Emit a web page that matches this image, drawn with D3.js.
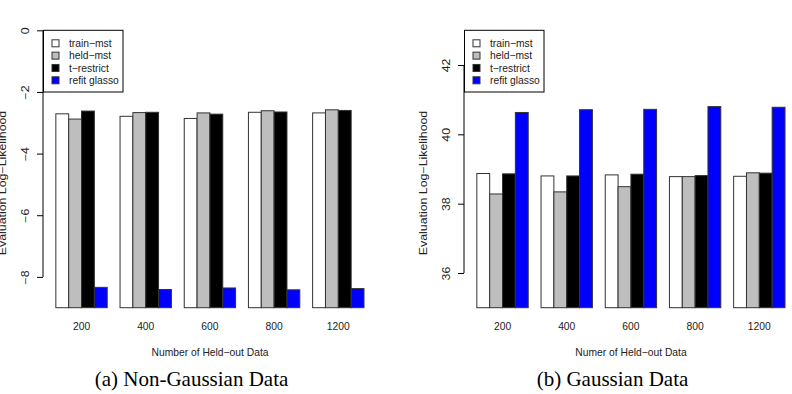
<!DOCTYPE html>
<html>
<head>
<meta charset="utf-8">
<script src="https://cdn.jsdelivr.net/npm/d3@7"></script>
<style>
  body { margin: 0; background: #fff; }
  svg { display: block; }
</style>
</head>
<body>
<script>
// 데이터
const groups = ["200", "400", "600", "800", "1200"];
const seriesNames = ["train\u2212mst", "held\u2212mst", "t\u2212restrict", "refit glasso"];
const seriesColors = ["#ffffff", "#bebebe", "#000000", "#0000ff"];

// (a) Non-Gaussian
const ngTrainMst  = [-2.71, -2.79, -2.86, -2.66, -2.68];
const ngHeldMst   = [-2.88, -2.67, -2.68, -2.61, -2.58];
const ngTRestrict = [-2.62, -2.66, -2.72, -2.65, -2.60];
const ngRefit     = [-8.34, -8.41, -8.36, -8.42, -8.38];
const ngTicks = [0, -2, -4, -6, -8];

// (b) Gaussian
const gTrainMst  = [38.87, 38.80, 38.83, 38.78, 38.79];
const gHeldMst   = [38.28, 38.34, 38.49, 38.78, 38.89];
const gTRestrict = [38.86, 38.80, 38.85, 38.81, 38.88];
const gRefit     = [40.63, 40.71, 40.72, 40.80, 40.78];
const gTicks = [42, 40, 38, 36];

const width = 792, height = 394;
const font = "'Liberation Sans', Arial, sans-serif";
const fs = 10.3;
const stretch = 1.2; // 세로 방향 글자가 약간 늘어나 있음

const svg = d3.select("body").append("svg")
    .attr("width", width)
    .attr("height", height);

const panels = [
  { left: 43, right: 364, top: 30.3, bottom: 307.7, domain: [-9, 0], ticks: ngTicks,
    values: [ngTrainMst, ngHeldMst, ngTRestrict, ngRefit],
    xTitle: "Number of Held\u2212out Data", caption: "(a) Non-Gaussian Data" },
  { left: 464, right: 785, top: 30.3, bottom: 307.7, domain: [35, 43], ticks: gTicks,
    values: [gTrainMst, gHeldMst, gTRestrict, gRefit],
    xTitle: "Numer of Held\u2212out Data", caption: "(b) Gaussian Data" }
];

panels.forEach(p => {
  const g = svg.append("g");

  const x0 = d3.scaleBand()
      .domain(groups)
      .range([p.left, p.right])
      .paddingInner(0.2)
      .paddingOuter(0.1)
      .align(1);

  const x1 = d3.scaleBand()
      .domain(d3.range(seriesNames.length))
      .range([0, x0.bandwidth()])
      .padding(0);

  const y = d3.scaleLinear()
      .domain(p.domain)
      .range([p.bottom, p.top]);

  // 막대
  const rows = [];
  groups.forEach((grp, i) => {
    p.values.forEach((vals, s) => rows.push({ grp, s, v: vals[i] }));
  });

  g.append("g").selectAll("rect")
    .data(rows)
    .enter().append("rect")
    .attr("x", d => x0(d.grp) + x1(d.s))
    .attr("width", x1.bandwidth())
    .attr("y", d => y(d.v))
    .attr("height", d => y(p.domain[0]) - y(d.v))
    .attr("fill", d => seriesColors[d.s])
    .attr("stroke", "#333")
    .attr("stroke-width", 1);

  // y 축
  const ax = g.append("g")
      .attr("transform", `translate(${p.left},0)`)
      .call(d3.axisLeft(y).tickValues(p.ticks).tickSize(6).tickFormat(d3.format("d")));
  const tk = p.ticks.map(y);
  ax.select(".domain")
    .attr("d", `M0,${d3.min(tk)}V${d3.max(tk)}`)
    .attr("stroke", "#000");
  ax.selectAll(".tick line").attr("stroke", "#000");
  ax.selectAll(".tick text")
    .attr("x", 0).attr("y", 0)
    .attr("dy", "0.35em")
    .attr("transform", `translate(-18,0) rotate(-90) scale(${stretch},1)`)
    .attr("text-anchor", "middle")
    .attr("font-family", font)
    .attr("font-size", fs)
    .attr("fill", "#222");

  // y 축 제목
  g.append("text")
    .attr("transform", `translate(${p.left - 40},183) rotate(-90) scale(${stretch},1)`)
    .attr("dy", "0.33em")
    .attr("text-anchor", "middle")
    .attr("font-family", font)
    .attr("font-size", fs)
    .attr("fill", "#222")
    .text("Evaluation Log\u2212Likelihood");

  // x 축 레이블
  const bx = g.append("g")
      .attr("transform", `translate(0,${p.bottom})`)
      .call(d3.axisBottom(x0).tickSize(0).tickPadding(14.5));
  bx.select(".domain").remove();
  bx.selectAll(".tick text")
    .attr("font-family", font)
    .attr("font-size", fs)
    .attr("fill", "#222");

  const cx = (p.left + p.right) / 2;
  g.append("text")
    .attr("x", cx + 6.5)
    .attr("y", 355.5)
    .attr("text-anchor", "middle")
    .attr("font-family", font)
    .attr("font-size", fs)
    .attr("fill", "#222")
    .text(p.xTitle);

  g.append("text")
    .attr("x", cx - 12)
    .attr("y", 386)
    .attr("text-anchor", "middle")
    .attr("font-family", "'Liberation Serif', 'Times New Roman', serif")
    .attr("font-size", 21)
    .attr("fill", "#000")
    .text(p.caption);

  // 범례
  const lg = g.append("g").attr("transform", `translate(${p.left + 0.5},${p.top})`);
  lg.append("rect")
    .attr("width", 79.5)
    .attr("height", 61.7)
    .attr("fill", "#fff")
    .attr("stroke", "#000")
    .attr("stroke-width", 1);

  const item = lg.selectAll(".item")
    .data(seriesNames)
    .enter().append("g")
    .attr("transform", (d, i) => `translate(0,${13 + i * 12.33})`);
  item.append("rect")
    .attr("x", 8.5).attr("y", -3.5)
    .attr("width", 7).attr("height", 7)
    .attr("fill", (d, i) => seriesColors[i])
    .attr("stroke", "#333");
  item.append("text")
    .attr("x", 25.5)
    .attr("dy", "0.35em")
    .attr("font-family", font)
    .attr("font-size", fs)
    .attr("fill", "#222")
    .text(d => d);
});
</script>
</body>
</html>
